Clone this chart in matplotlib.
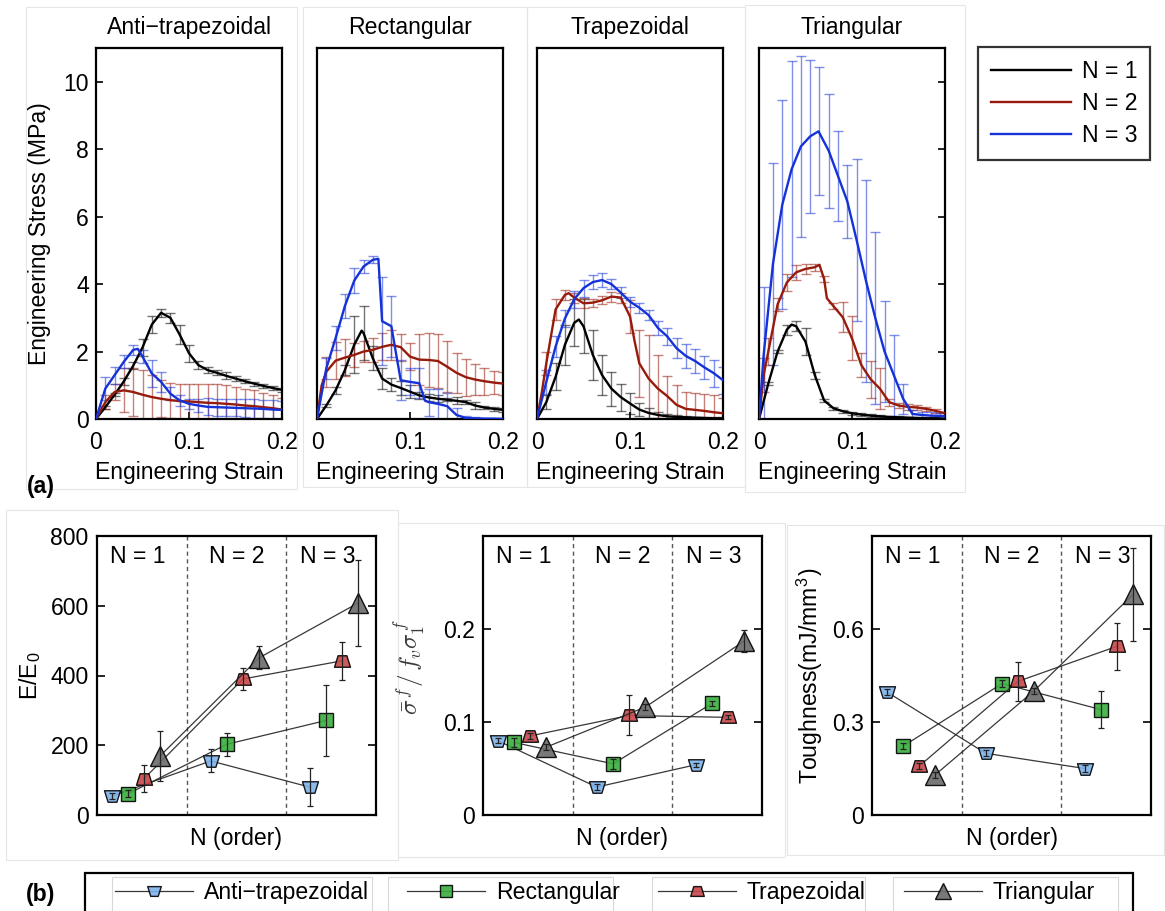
import numpy as np
import matplotlib
matplotlib.use("Agg")
import matplotlib.pyplot as plt
from matplotlib.path import Path
from matplotlib.patches import Rectangle

plt.rcParams['font.family'] = ['Liberation Sans', 'DejaVu Sans']
plt.rcParams['mathtext.fontset'] = 'cm'

# ---------------------------------------------------------------------------
# (a) Engineering stress-strain curves: mean stress (MPa) and standard deviation
# ---------------------------------------------------------------------------
grid = [0, .01, .02, .03, .04, .05, .06, .07, .08, .09, .10,
        .11, .12, .13, .14, .15, .16, .17, .18, .19, .20]

# Anti-trapezoidal
anti_n1_strain = grid
anti_n1_stress = [0, 0.35, 0.72, 1.12, 1.58, 2.12, 2.8, 3.15, 3.0, 2.5, 1.95,
                  1.6, 1.45, 1.37, 1.28, 1.2, 1.12, 1.05, 0.98, 0.92, 0.86]
anti_n1_sd = [0, 0.05, 0.05, 0.1, 0.1, 0.25, 0.25, 0.12, 0.15, 0.28, 0.25,
              0.12, 0.1, 0.08, 0.1, 0.08, 0.06, 0.06, 0.05, 0.05, 0.05]
anti_n2_strain = grid
anti_n2_stress = [0, 0.5, 0.8, 0.85, 0.8, 0.72, 0.65, 0.6, 0.56, 0.53, 0.52,
                  0.5, 0.48, 0.47, 0.45, 0.43, 0.4, 0.38, 0.35, 0.32, 0.28]
anti_n2_sd = [0, 0.2, 0.25, 0.65, 0.7, 0.73, 0.65, 0.55, 0.52, 0.52, 0.53,
              0.55, 0.57, 0.58, 0.55, 0.52, 0.5, 0.47, 0.43, 0.38, 0.34]
anti_n3_strain = [0, .01, .02, .03, .04, .045, .05, .06, .07, .08, .09, .10,
                  .11, .12, .13, .14, .15, .16, .17, .18, .19, .20]
anti_n3_stress = [0, 0.9, 1.3, 1.7, 2.05, 2.08, 1.85, 1.35, 1.1, 0.75, 0.55, 0.45,
                  0.4, 0.36, 0.35, 0.34, 0.33, 0.32, 0.31, 0.3, 0.28, 0.27]
anti_n3_sd = [0, 0.35, 0.25, 0.2, 0.15, 0, 0.2, 0.4, 0.3, 0.2, 0.15, 0.15,
              0.2, 0.25, 0.25, 0.25, 0.25, 0.27, 0.27, 0.27, 0.27, 0.27]

# Rectangular
rect_n1_strain = [0, .01, .02, .03, .04, .048, .05, .06, .07, .08, .09, .10,
                  .11, .12, .13, .14, .15, .16, .17, .18, .19, .20]
rect_n1_stress = [0, 0.4, 0.85, 1.45, 2.2, 2.62, 2.55, 1.8, 1.2, 1.02, 0.92, 0.81,
                  0.7, 0.64, 0.6, 0.57, 0.54, 0.5, 0.4, 0.34, 0.3, 0.27]
rect_n1_sd = [0, 0.05, 0.1, 0.15, 0.85, 0, 0.8, 0.35, 0.3, 0.2, 0.2, 0.2,
              0.1, 0.1, 0.1, 0.05, 0.1, 0.05, 0.1, 0.05, 0.05, 0.05]
rect_n2_strain = [0, .005, .01, .02, .03, .04, .05, .06, .07, .08, .09, .10,
                  .11, .12, .13, .14, .15, .16, .17, .18, .19, .20]
rect_n2_stress = [0, 1.0, 1.4, 1.73, 1.82, 1.9, 2.0, 2.05, 2.14, 2.2, 2.13, 1.85,
                  1.76, 1.75, 1.72, 1.55, 1.37, 1.24, 1.17, 1.12, 1.08, 1.05]
rect_n2_sd = [0, 0, 0.45, 0.55, 0.55, 0.35, 0.3, 0.35, 0.4, 0.45, 0.4, 0.4,
              0.75, 0.8, 0.8, 0.75, 0.6, 0.55, 0.45, 0.4, 0.35, 0.35]
rect_n3_strain = [0, .01, .02, .03, .04, .05, .06, .066, .07, .08, .084, .09, .10,
                  .11, .116, .12, .13, .14, .15, .16, .17, .18, .19, .20]
rect_n3_stress = [0, 1.5, 2.4, 3.35, 4.1, 4.52, 4.72, 4.75, 2.9, 2.75, 2.1, 1.15, 1.1,
                  1.06, 0.55, 0.5, 0.45, 0.38, 0.12, 0.03, 0.02, 0.01, 0.01, 0.0]
rect_n3_sd = [0, 0.3, 0.35, 0.35, 0.37, 0.2, 0.1, 0, 1.3, 0.9, 0, 0.6, 0.4,
              0.45, 0, 0.4, 0.45, 0.4, 0.2, 0.05, 0.03, 0.02, 0.02, 0.02]

# Trapezoidal
trap_n1_strain = [0, .01, .02, .03, .04, .045, .05, .06, .07, .08, .09, .10,
                  .11, .12, .13, .14, .15, .16, .17, .18, .19, .20]
trap_n1_stress = [0, 0.5, 1.25, 2.2, 2.85, 2.95, 2.75, 1.9, 1.3, 0.9, 0.65, 0.46,
                  0.28, 0.18, 0.12, 0.08, 0.06, 0.05, 0.04, 0.03, 0.02, 0.02]
trap_n1_sd = [0, 0.2, 0.4, 0.6, 0.7, 0, 0.8, 0.75, 0.6, 0.5, 0.4, 0.3,
              0.2, 0.15, 0.1, 0.08, 0.05, 0.03, 0.03, 0.03, 0.03, 0.03]
trap_n2_strain = [0, .005, .01, .02, .03, .034, .04, .05, .06, .07, .08, .09, .10,
                  .105, .11, .12, .13, .14, .15, .16, .17, .18, .19, .20]
trap_n2_stress = [0, 0.76, 1.65, 3.25, 3.68, 3.73, 3.6, 3.43, 3.45, 3.52, 3.63, 3.6, 3.04,
                  2.3, 1.65, 1.2, 0.9, 0.68, 0.42, 0.3, 0.27, 0.24, 0.2, 0.17]
trap_n2_sd = [0, 0, 0.35, 0.3, 0.15, 0, 0.15, 0.15, 0.12, 0.12, 0.15, 0.15, 0.5,
              0, 1.0, 1.3, 1.0, 0.6, 0.6, 0.5, 0.5, 0.5, 0.5, 0.45]
trap_n3_strain = grid
trap_n3_stress = [0, 1.1, 2.15, 2.98, 3.55, 3.88, 4.06, 4.12, 4.0, 3.75, 3.48,
                  3.3, 3.08, 2.7, 2.45, 2.1, 1.87, 1.72, 1.53, 1.36, 1.15]
trap_n3_sd = [0, 0.35, 0.3, 0.25, 0.25, 0.25, 0.2, 0.2, 0.15, 0.15, 0.15,
              0.15, 0.15, 0.2, 0.25, 0.3, 0.35, 0.35, 0.35, 0.4, 0.4]

# Triangular
tri_n1_strain = [0, .01, .02, .03, .035, .04, .05, .06, .07, .08, .09, .10,
                 .11, .12, .13, .14, .15, .16, .17, .18, .19, .20]
tri_n1_stress = [0, 1.05, 2.0, 2.65, 2.8, 2.75, 2.29, 1.3, 0.55, 0.32, 0.23, 0.17,
                 0.13, 0.1, 0.08, 0.06, 0.05, 0.04, 0.03, 0.02, 0.02, 0.01]
tri_n1_sd = [0, 0.05, 0.05, 0.15, 0, 0.15, 0.4, 0.1, 0.05, 0.05, 0.05, 0.05,
             0.05, 0.05, 0.03, 0.03, 0.03, 0.03, 0.03, 0.03, 0.03, 0.03]
tri_n2_strain = [0, .005, .01, .02, .03, .04, .05, .06, .065, .07, .073, .08, .09, .10,
                 .11, .12, .13, .14, .15, .16, .17, .18, .19, .20]
tri_n2_stress = [0, 1.3, 2.0, 3.4, 4.05, 4.35, 4.45, 4.5, 4.57, 4.15, 3.58, 3.35, 3.02, 2.39,
                 1.6, 1.18, 0.9, 0.5, 0.4, 0.36, 0.34, 0.3, 0.24, 0.17]
tri_n2_sd = [0, 0.5, 0.4, 0.2, 0.25, 0.22, 0.15, 0.1, 0, 0.1, 0, 0.1, 0.45, 0.65,
             0.35, 0.55, 0.6, 0.1, 0.08, 0.08, 0.08, 0.06, 0.06, 0.05]
tri_n3_strain = [0, .005, .015, .025, .035, .045, .055, .064, .075, .085, .095, .105,
                 .115, .125, .135, .145, .155, .165, .175, .185, .195, .20]
tri_n3_stress = [0, 1.9, 4.6, 6.35, 7.4, 8.08, 8.38, 8.53, 7.95, 7.2, 6.45, 5.3,
                 4.1, 3.0, 2.0, 1.3, 0.6, 0.15, 0.12, 0.1, 0.09, 0.08]
tri_n3_sd = [0, 2.0, 3.0, 3.1, 3.2, 2.67, 2.27, 1.9, 1.68, 1.34, 1.09, 2.4,
             3.0, 2.55, 1.5, 1.2, 0.45, 0.12, 0.1, 0.1, 0.1, 0]

panel_titles = ['Anti\u2212trapezoidal', 'Rectangular', 'Trapezoidal', 'Triangular']
order_labels = ['N = 1', 'N = 2', 'N = 3']

# ---------------------------------------------------------------------------
# (b) Normalised properties versus hierarchical order N
# ---------------------------------------------------------------------------
order = [1, 2, 3]
shape_names = ['Anti\u2212trapezoidal', 'Rectangular', 'Trapezoidal', 'Triangular']

modulus_anti = [54, 155, 80]
modulus_anti_sd = [8, 33, 55]
modulus_rect = [61, 203, 271]
modulus_rect_sd = [10, 33, 102]
modulus_trap = [104, 390, 442]
modulus_trap_sd = [38, 32, 55]
modulus_tri = [170, 451, 608]
modulus_tri_sd = [72, 33, 122]

strength_anti = [0.080, 0.030, 0.054]
strength_anti_sd = [0.003, 0.003, 0.002]
strength_rect = [0.078, 0.055, 0.120]
strength_rect_sd = [0.005, 0.005, 0.003]
strength_trap = [0.085, 0.107, 0.105]
strength_trap_sd = [0.003, 0.0215, 0.002]
strength_tri = [0.073, 0.116, 0.187]
strength_tri_sd = [0.003, 0.003, 0.012]

tough_anti = [0.397, 0.199, 0.150]
tough_anti_sd = [0.01, 0.01, 0.01]
tough_rect = [0.222, 0.424, 0.340]
tough_rect_sd = [0.01, 0.01, 0.06]
tough_trap = [0.157, 0.431, 0.544]
tough_trap_sd = [0.01, 0.062, 0.075]
tough_tri = [0.130, 0.401, 0.712]
tough_tri_sd = [0.01, 0.01, 0.15]

# ---------------------------------------------------------------------------
W, H = 1165, 911
fig = plt.figure(figsize=(W / 100, H / 100), dpi=100)
FS = 16.6


def px_axes(x0, y0, x1, y1):
    return fig.add_axes([x0 / W, 1 - y1 / H, (x1 - x0) / W, (y1 - y0) / H])


def px_rect(x0, y0, x1, y1, color='#e6e6e6', lw=0.8, zorder=0):
    fig.add_artist(Rectangle((x0 / W, 1 - y1 / H), (x1 - x0) / W, (y1 - y0) / H,
                             transform=fig.transFigure, fill=False,
                             edgecolor=color, linewidth=lw, zorder=zorder))


# faint outlines of the individual sub-figures
px_rect(26, 7, 297, 489)
px_rect(303, 7, 527, 487)
px_rect(527, 7, 745, 487)
px_rect(745, 5, 965, 492)
px_rect(6, 510, 398, 860)
px_rect(398, 523, 785, 857)
px_rect(787, 525, 1164, 855)

curve_colors = ['#000000', '#961b0c', '#1432d8']
top_sets = [
    [(anti_n1_strain, anti_n1_stress, anti_n1_sd),
     (anti_n2_strain, anti_n2_stress, anti_n2_sd),
     (anti_n3_strain, anti_n3_stress, anti_n3_sd)],
    [(rect_n1_strain, rect_n1_stress, rect_n1_sd),
     (rect_n2_strain, rect_n2_stress, rect_n2_sd),
     (rect_n3_strain, rect_n3_stress, rect_n3_sd)],
    [(trap_n1_strain, trap_n1_stress, trap_n1_sd),
     (trap_n2_strain, trap_n2_stress, trap_n2_sd),
     (trap_n3_strain, trap_n3_stress, trap_n3_sd)],
    [(tri_n1_strain, tri_n1_stress, tri_n1_sd),
     (tri_n2_strain, tri_n2_stress, tri_n2_sd),
     (tri_n3_strain, tri_n3_stress, tri_n3_sd)],
]
top_left = [96, 317, 537, 759]
legend_lines = []

for i, (title, curves) in enumerate(zip(panel_titles, top_sets)):
    ax = px_axes(top_left[i], 48, top_left[i] + 186, 419)
    for (s, y, e), c in zip(curves, curve_colors):
        s, y, e = np.asarray(s), np.asarray(y), np.asarray(e)
        m = e > 0
        ax.errorbar(s[m], y[m], yerr=e[m], fmt='none', ecolor=c, alpha=0.55,
                    elinewidth=1.0, capsize=3.5, capthick=1.0, zorder=2)
    for (s, y, e), c in zip(curves, curve_colors):
        ln, = ax.plot(s, y, color=c, lw=1.7, zorder=3)
        if i == 0:
            legend_lines.append(ln)
    ax.set_xlim(0, 0.2)
    ax.set_ylim(0, 11)
    ax.set_xticks([0, 0.1, 0.2])
    ax.set_xticklabels(['0', '0.1', '0.2'])
    ax.tick_params(axis='x', direction='in', length=5, width=1.2,
                   labelsize=FS, pad=9)
    if i == 0:
        ax.set_yticks([0, 2, 4, 6, 8, 10])
        ax.tick_params(axis='y', direction='in', length=5, width=1.2,
                       labelsize=FS, pad=5)
        ax.set_ylabel('Engineering Stress (MPa)', fontsize=FS, labelpad=9)
    elif i == 3:
        ax.set_yticks([2, 4, 6, 8, 10])
        ax.tick_params(axis='y', direction='in', length=5, width=1.2,
                       left=False, right=True, labelleft=False)
    else:
        ax.set_yticks([])
    ax.set_title(title, fontsize=FS, pad=10)
    ax.set_xlabel('Engineering Strain', fontsize=FS, labelpad=5)
    for sp in ax.spines.values():
        sp.set_linewidth(1.6)

leg_a = fig.legend(legend_lines, order_labels, loc='upper left',
                   bbox_to_anchor=(978 / W, 1 - 47 / H), borderaxespad=0,
                   frameon=True, fancybox=False, edgecolor='black',
                   fontsize=FS, handlelength=3.5, handletextpad=0.45,
                   borderpad=0.55, labelspacing=0.4)
leg_a.get_frame().set_linewidth(1.6)

fig.text(27 / W, 1 - 486 / H, '(a)', fontsize=FS, fontweight='bold',
         va='center', ha='left')

# ---------------------------------------------------------------------------
def trapezoid(flip):
    sgn = -1 if flip else 1
    verts = [(-1.0, -0.72 * sgn), (1.0, -0.72 * sgn), (0.55, 0.72 * sgn),
             (-0.55, 0.72 * sgn), (-1.0, -0.72 * sgn)]
    return Path(verts, [Path.MOVETO, Path.LINETO, Path.LINETO, Path.LINETO,
                        Path.CLOSEPOLY])


shape_style = [
    dict(marker=trapezoid(True), ms=11.5, mfc='#7eb3ea', offset=-0.26),
    dict(marker='s', ms=9.5, mfc='#3aae3e', offset=-0.095),
    dict(marker=trapezoid(False), ms=11.5, mfc='#c7484a', offset=0.065),
    dict(marker='^', ms=14, mfc='#6b6b6b', offset=0.23),
]

bottom_sets = [
    ([modulus_anti, modulus_rect, modulus_trap, modulus_tri],
     [modulus_anti_sd, modulus_rect_sd, modulus_trap_sd, modulus_tri_sd],
     (0, 800), [0, 200, 400, 600, 800], ['0', '200', '400', '600', '800'],
     r'E/E$_{\mathregular{0}}$', (97, 376)),
    ([strength_anti, strength_rect, strength_trap, strength_tri],
     [strength_anti_sd, strength_rect_sd, strength_trap_sd, strength_tri_sd],
     (0, 0.3), [0, 0.1, 0.2], ['0', '0.1', '0.2'],
     r'$\bar{\sigma}^{\,f}/\,f_v\sigma_1^{\,f}$', (483, 762)),
    ([tough_anti, tough_rect, tough_trap, tough_tri],
     [tough_anti_sd, tough_rect_sd, tough_trap_sd, tough_tri_sd],
     (0, 0.9), [0, 0.3, 0.6], ['0', '0.3', '0.6'],
     r'Toughness(mJ/mm$^{\mathregular{3}}$)', (872, 1151)),
]

legend_b = []
for j, (vals, sds, ylim, yt, ytl, ylab, (xa, xb)) in enumerate(bottom_sets):
    ax = px_axes(xa, 536, xb, 815)
    for k, (v, e, st) in enumerate(zip(vals, sds, shape_style)):
        xs = np.asarray(order, dtype=float) + st['offset']
        ln, = ax.plot(xs, v, color='#222222', lw=0.9, marker=st['marker'],
                      ms=st['ms'], mfc=st['mfc'], mec='black', mew=1.0,
                      alpha=0.9, zorder=3)
        ax.errorbar(xs, v, yerr=e, fmt='none', ecolor='#222222', elinewidth=0.9,
                    capsize=2.5, capthick=0.9, zorder=4)
        if j == 0:
            legend_b.append(ln)
    for xd in (1.5, 2.5):
        ax.axvline(xd, color='#555555', lw=1.0, ls=(0, (3, 2.5)), zorder=1)
    for n, xt in zip(order, (1.0, 2.0, 2.92)):
        ax.text(xt, ylim[1] * 0.925, order_labels[n - 1], fontsize=FS,
                ha='center', va='center')
    ax.set_xlim(0.59, 3.41)
    ax.set_ylim(*ylim)
    ax.set_xticks([])
    ax.set_yticks(yt)
    ax.set_yticklabels(ytl)
    ax.tick_params(axis='y', direction='in', length=6, width=1.2,
                   left=True, right=True, labelsize=FS, pad=6)
    ax.set_xlabel('N (order)', fontsize=FS, labelpad=9)
    if j == 1:
        ax.set_ylabel(ylab, fontsize=18, color='#3a3a3a', labelpad=3)
        ax.yaxis.set_label_coords(-0.2, 0.53)
    else:
        ax.set_ylabel(ylab, fontsize=FS, labelpad=5)
    for sp in ax.spines.values():
        sp.set_linewidth(1.6)

# legend: outer frame, faint entry outlines, then the entries themselves
px_rect(85, 873, 1133, 918, color='black', lw=1.6, zorder=5)
for x0, x1 in ((112, 372), (388, 613), (652, 865), (893, 1118)):
    px_rect(x0, 877, x1, 918, color='#d8d8d8', lw=0.8)

leg_b = fig.legend(legend_b, shape_names, loc='center left', ncol=4,
                   mode='expand', bbox_to_anchor=(115 / W, 1 - 913 / H, 980 / W, 40 / H),
                   borderaxespad=0, borderpad=0, frameon=False,
                   fontsize=FS, handlelength=3.4, handletextpad=0.45,
                   markerscale=0.85)

fig.text(26 / W, 1 - 894 / H, '(b)', fontsize=FS, fontweight='bold',
         va='center', ha='left')

fig.savefig('out.png', dpi=100)
